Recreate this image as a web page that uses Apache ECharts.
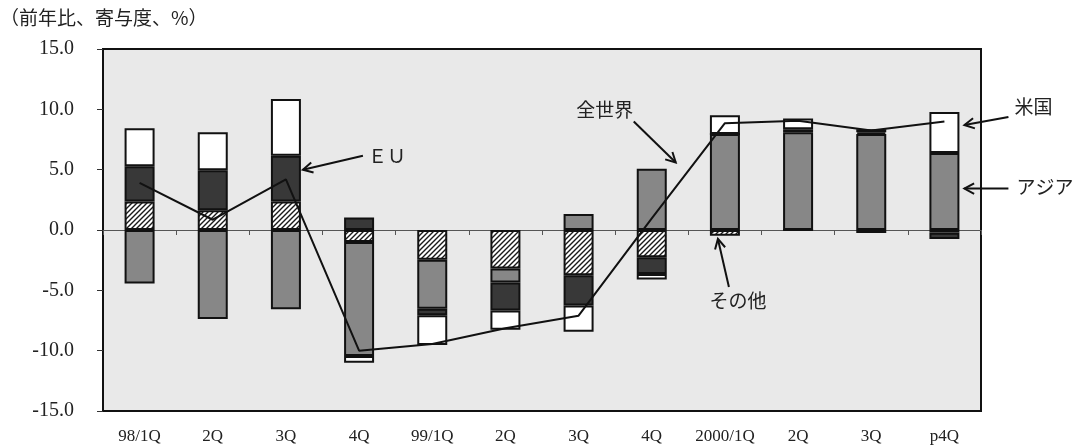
<!DOCTYPE html>
<html>
<head>
<meta charset="utf-8">
<script src="https://cdn.jsdelivr.net/npm/echarts/dist/echarts.min.js"></script>
<style>
  html, body { margin: 0; padding: 0; background: #ffffff; }
  #chart { width: 1079px; height: 445px; }
</style>
</head>
<body>
<div id="chart"></div>
<script>
// Quarters on the category axis
const categories = ['98/1Q', '2Q', '3Q', '4Q', '99/1Q', '2Q', '3Q', '4Q', '2000/1Q', '2Q', '3Q', 'p4Q'];

// Contributions by region (percentage points)
const otherVals = [2.36, 1.64, 2.36, -1.00, -2.47, -3.20, -3.75, -2.25, -0.47, 0.00, -0.25, -0.22];
const asiaVals  = [-4.44, -7.37, -6.57, -9.45, -4.05, -1.15, 1.32, 5.07, 7.95, 8.10, 7.95, 6.38];
const euVals    = [2.92, 3.32, 3.80, 1.04, -0.55, -2.33, -2.50, -1.39, 0.00, 0.25, 0.15, -0.52];
const usVals    = [3.16, 3.15, 4.69, -0.55, -2.47, -1.59, -2.19, -0.47, 1.56, 0.90, 0.25, 3.40];

// World total (year-on-year, %)
const worldVals = [3.90, 0.85, 4.20, -10.00, -9.45, -8.15, -7.10, 0.96, 8.85, 9.05, 8.25, 9.00];

// Value axis range
const yMin = -15, yMax = 15, yStep = 5;

const serifFont = '"Liberation Serif", "DejaVu Serif", serif';
const cjkFont = '"Noto Sans CJK JP", "Noto Sans", sans-serif';

// Diagonal hatch used for the "その他" segments
function makeHatch() {
  const size = 5;
  const cv = document.createElement('canvas');
  cv.width = size; cv.height = size;
  const ctx = cv.getContext('2d');
  ctx.fillStyle = '#ffffff';
  ctx.fillRect(0, 0, size, size);
  ctx.strokeStyle = '#1a1a1a';
  ctx.lineWidth = 1.4;
  ctx.beginPath();
  ctx.moveTo(-1, size + 1); ctx.lineTo(size + 1, -1);
  ctx.moveTo(-1, 1); ctx.lineTo(1, -1);
  ctx.moveTo(size - 1, size + 1); ctx.lineTo(size + 1, size - 1);
  ctx.stroke();
  return { image: cv, repeat: 'repeat' };
}

const chart = echarts.init(document.getElementById('chart'), null, { renderer: 'canvas' });

const barBase = {
  type: 'bar',
  stack: 'total',
  barWidth: 30,
  xAxisIndex: 0,
  yAxisIndex: 0,
  animation: false,
  itemStyle: { borderColor: '#111111', borderWidth: 2 }
};

chart.setOption({
  animation: false,
  backgroundColor: '#ffffff',
  grid: {
    left: 103, top: 49, width: 878, height: 363,
    show: true,
    backgroundColor: '#e9e9e9',
    borderColor: '#111111',
    borderWidth: 2,
    containLabel: false
  },
  xAxis: [
    {
      type: 'category',
      data: categories,
      position: 'bottom',
      boundaryGap: true,
      axisLine: { onZero: true, lineStyle: { color: '#555555', width: 1 } },
      axisTick: { show: true, inside: false, length: 5, lineStyle: { color: '#555555', width: 1 } },
      axisLabel: { show: false },
      splitLine: { show: false }
    },
    {
      type: 'category',
      data: categories,
      position: 'bottom',
      boundaryGap: true,
      axisLine: { show: false, onZero: false },
      axisTick: { show: false },
      axisLabel: { show: true, margin: 17, fontFamily: serifFont, fontSize: 17, color: '#222222', interval: 0 },
      splitLine: { show: false }
    }
  ],
  yAxis: {
    type: 'value',
    min: yMin, max: yMax, interval: yStep,
    axisLine: { show: true, lineStyle: { color: '#111111', width: 2 } },
    axisTick: { show: true, inside: false, length: 6, lineStyle: { color: '#333333', width: 1 } },
    axisLabel: {
      margin: 29, fontFamily: serifFont, fontSize: 20, color: '#222222',
      formatter: v => v.toFixed(1)
    },
    splitLine: { show: false }
  },
  series: [
    Object.assign({}, barBase, { name: 'その他', data: otherVals, itemStyle: Object.assign({}, barBase.itemStyle, { color: makeHatch() }) }),
    Object.assign({}, barBase, { name: 'アジア', data: asiaVals, itemStyle: Object.assign({}, barBase.itemStyle, { color: '#878787' }) }),
    Object.assign({}, barBase, { name: 'EU', data: euVals, itemStyle: Object.assign({}, barBase.itemStyle, { color: '#383838' }) }),
    Object.assign({}, barBase, { name: '米国', data: usVals, itemStyle: Object.assign({}, barBase.itemStyle, { color: '#ffffff' }) }),
    {
      name: '全世界',
      type: 'line',
      data: worldVals,
      xAxisIndex: 0,
      yAxisIndex: 0,
      symbol: 'none',
      z: 5,
      lineStyle: { color: '#111111', width: 2 },
      animation: false
    }
  ]
});

// Callouts: arrow tip anchored to a (category, value) point, tail and label offsets in px
const callouts = [
  { text: 'ＥＵ',   cat: 2,  val: 5.0,  dx: 17,  tail: [60, -14], label: [5, 0],    align: 'left',   vAlign: 'middle' },
  { text: '全世界', cat: 7,  val: 5.6,  dx: 24,  tail: [-42, -41], label: [-29, -2], align: 'center', vAlign: 'bottom' },
  { text: '米国',   cat: 11, val: 8.7,  dx: 20,  tail: [44, -8],   label: [6, -10],  align: 'left',   vAlign: 'middle' },
  { text: 'アジア', cat: 11, val: 3.43, dx: 20,  tail: [44, 0],    label: [8, -2],   align: 'left',   vAlign: 'middle' },
  { text: 'その他', cat: 8,  val: -0.74, dx: -7, tail: [11, 48],   label: [9, 4],    align: 'center', vAlign: 'top' }
];

function arrowElements(c) {
  const p = chart.convertToPixel({ xAxisIndex: 0, yAxisIndex: 0 }, [c.cat, c.val]);
  const tip = [p[0] + c.dx, p[1]];
  const tail = [tip[0] + c.tail[0], tip[1] + c.tail[1]];
  const ux = tip[0] - tail[0], uy = tip[1] - tail[1];
  const len = Math.hypot(ux, uy);
  const nx = ux / len, ny = uy / len;
  const headLen = 11, ang = 28 * Math.PI / 180;
  const rot = (a) => [
    tip[0] - headLen * (nx * Math.cos(a) - ny * Math.sin(a)),
    tip[1] - headLen * (nx * Math.sin(a) + ny * Math.cos(a))
  ];
  const h1 = rot(ang), h2 = rot(-ang);
  return [
    { type: 'line', shape: { x1: tail[0], y1: tail[1], x2: tip[0], y2: tip[1] },
      style: { stroke: '#111111', lineWidth: 2 }, z: 10 },
    { type: 'polyline', shape: { points: [h1, tip, h2] },
      style: { stroke: '#111111', lineWidth: 2, fill: null }, z: 10 },
    { type: 'text', x: tail[0] + c.label[0], y: tail[1] + c.label[1], z: 10,
      style: { text: c.text, font: '19px ' + cjkFont, fill: '#222222',
               textAlign: c.align, textVerticalAlign: c.vAlign } }
  ];
}

const graphics = [
  { type: 'text', x: 0, y: 18, z: 10,
    style: { text: '（前年比、寄与度、%）', font: '19px ' + cjkFont, fill: '#222222',
             textAlign: 'left', textVerticalAlign: 'middle' } }
];
callouts.forEach(c => arrowElements(c).forEach(e => graphics.push(e)));
chart.setOption({ graphic: graphics });
</script>
</body>
</html>
